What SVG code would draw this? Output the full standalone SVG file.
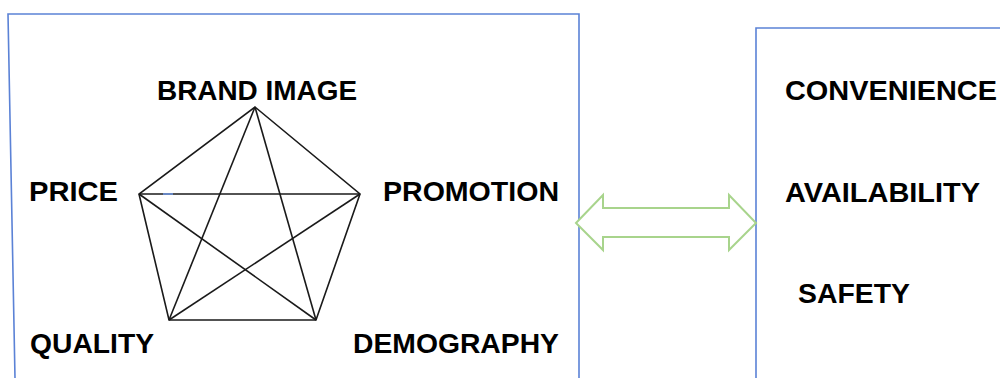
<svg xmlns="http://www.w3.org/2000/svg" width="1000" height="378" viewBox="0 0 1000 378">
<style>
.frame{fill:none;stroke:#5b82d6;stroke-width:1.6}
.edge{stroke:#1a1a1a;stroke-width:1.6;fill:none}
.lbl{font-family:"Liberation Sans",Arial,sans-serif;font-weight:bold;font-size:28px;fill:#000}
.arrow{fill:#fff;stroke:#a8d48c;stroke-width:2;stroke-linejoin:miter}
</style>
<rect width="1000" height="378" fill="#fff"/>
<g id="left-box">
<polyline class="frame" points="15,378 8,14 579,14 579,378"/>
</g>
<g id="right-box">
<polyline class="frame" points="756,378 756,28 1000,28"/>
</g>
<g id="connectors">
<polygon class="edge" points="255,107 360,194 316,320 169,320 139,194"/>
<line class="edge" x1="255" y1="107" x2="169" y2="320"/>
<line class="edge" x1="255" y1="107" x2="316" y2="320"/>
<line class="edge" x1="139" y1="194" x2="360" y2="194"/>
<line class="edge" x1="139" y1="194" x2="316" y2="320"/>
<line class="edge" x1="360" y1="194" x2="169" y2="320"/>
<line x1="163" y1="194" x2="173" y2="194" stroke="#6f95e0" stroke-width="1.6"/>
</g>
<g id="double-arrow">
<polygon class="arrow" points="576,223 603,195 603,208 729,208 729,195 756,223 729,250 729,237 603,237 603,250"/>
</g>
<g id="node-brand-image"><text class="lbl" x="157" y="100" textLength="200" lengthAdjust="spacingAndGlyphs">BRAND IMAGE</text></g>
<g id="node-price"><text class="lbl" x="29" y="201" textLength="89" lengthAdjust="spacingAndGlyphs">PRICE</text></g>
<g id="node-promotion"><text class="lbl" x="383" y="201" textLength="176" lengthAdjust="spacingAndGlyphs">PROMOTION</text></g>
<g id="node-quality"><text class="lbl" x="30" y="353" textLength="124" lengthAdjust="spacingAndGlyphs">QUALITY</text></g>
<g id="node-demography"><text class="lbl" x="353" y="353" textLength="206" lengthAdjust="spacingAndGlyphs">DEMOGRAPHY</text></g>
<g id="node-convenience"><text class="lbl" x="785" y="100" textLength="212" lengthAdjust="spacingAndGlyphs">CONVENIENCE</text></g>
<g id="node-availability"><text class="lbl" x="785" y="202" textLength="195" lengthAdjust="spacingAndGlyphs">AVAILABILITY</text></g>
<g id="node-safety"><text class="lbl" x="798" y="303" textLength="112" lengthAdjust="spacingAndGlyphs">SAFETY</text></g>
</svg>
